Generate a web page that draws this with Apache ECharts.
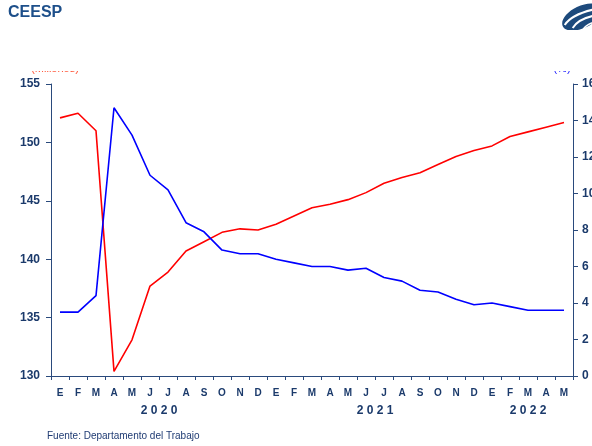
<!DOCTYPE html>
<html>
<head>
<meta charset="utf-8">
<script src="https://cdn.jsdelivr.net/npm/echarts@6/dist/echarts.min.js"></script>
<style>
  html, body { margin: 0; padding: 0; background: #ffffff; overflow: hidden; }
  #chart { width: 592px; height: 446px; }
</style>
</head>
<body>
<div id="chart"></div>
<script>
// Monthly categories, January 2020 to May 2022 (Spanish initials)
const months = ['E','F','M','A','M','J','J','A','S','O','N','D',
                'E','F','M','A','M','J','J','A','S','O','N','D',
                'E','F','M','A','M'];

// Nonfarm employment, millions (left axis)
const employment = [152.1, 152.5, 151.0, 130.4, 133.1, 137.7, 138.9, 140.7, 141.5, 142.3, 142.6, 142.5,
                    143.0, 143.7, 144.4, 144.7, 145.1, 145.7, 146.5, 147.0, 147.4, 148.1, 148.8, 149.3,
                    149.7, 150.5, 150.9, 151.3, 151.7];

// Unemployment rate, % (right axis)
const unemployment = [3.5, 3.5, 4.4, 14.7, 13.2, 11.0, 10.2, 8.4, 7.9, 6.9, 6.7, 6.7,
                      6.4, 6.2, 6.0, 6.0, 5.8, 5.9, 5.4, 5.2, 4.7, 4.6, 4.2, 3.9,
                      4.0, 3.8, 3.6, 3.6, 3.6];

// Year captions and where they sit on the month scale (in months from Jan 2020)
const years = ['2020', '2021', '2022'];
const yearAt = [6, 18, 26.5];

const navy = '#1b3a6b';
const axisColor = '#2a4a7c';
const font = 'Liberation Sans, Arial, sans-serif';

const chart = echarts.init(document.getElementById('chart'), null, { renderer: 'canvas' });

chart.setOption({
  animation: false,
  backgroundColor: '#ffffff',
  grid: { left: 51, right: 19, top: 84, bottom: 70, containLabel: false, outerBoundsMode: 'none' },
  xAxis: [
    {
      type: 'category',
      data: months,
      boundaryGap: true,
      axisLine: { show: true, lineStyle: { color: axisColor, width: 1 } },
      axisTick: { show: true, inside: false, length: 4, interval: 0, lineStyle: { color: axisColor } },
      axisLabel: { interval: 0, margin: 12, color: navy, fontFamily: font, fontWeight: 'bold', fontSize: 10 },
      splitLine: { show: false }
    },
    {
      type: 'value',
      min: 0,
      max: months.length,
      interval: 0.5,
      position: 'bottom',
      axisLine: { show: false },
      axisTick: { show: false },
      splitLine: { show: false },
      axisLabel: {
        margin: 29,
        color: navy,
        fontFamily: font,
        fontWeight: 'bold',
        fontSize: 12,
        showMinLabel: true,
        showMaxLabel: true,
        formatter: function (v) {
          for (let i = 0; i < yearAt.length; i++) {
            if (Math.abs(v - yearAt[i]) < 1e-6) return years[i].split('').join(' ');
          }
          return '';
        }
      }
    }
  ],
  yAxis: [
    {
      type: 'value',
      min: 130,
      max: 155,
      interval: 5,
      position: 'left',
      name: '(Millones)',
      nameLocation: 'end',
      nameGap: 10,
      nameTextStyle: { color: '#ff4d2e', fontFamily: font, fontSize: 11, padding: [0, 0, 0, 8] },
      axisLine: { show: true, lineStyle: { color: axisColor, width: 1 } },
      axisTick: { show: true, inside: false, length: 5, lineStyle: { color: axisColor } },
      axisLabel: { margin: 11, color: navy, fontFamily: font, fontWeight: 'bold', fontSize: 12 },
      splitLine: { show: false }
    },
    {
      type: 'value',
      min: 0,
      max: 16,
      interval: 2,
      position: 'right',
      name: '(%)',
      nameLocation: 'end',
      nameGap: 10,
      nameTextStyle: { color: '#1a1aff', fontFamily: font, fontSize: 11, padding: [0, 22, 0, 0] },
      axisLine: { show: true, lineStyle: { color: axisColor, width: 1 } },
      axisTick: { show: true, inside: false, length: 5, lineStyle: { color: axisColor } },
      axisLabel: { margin: 9, color: navy, fontFamily: font, fontWeight: 'bold', fontSize: 12 },
      splitLine: { show: false }
    }
  ],
  series: [
    {
      name: 'Empleo',
      type: 'line',
      xAxisIndex: 0,
      yAxisIndex: 0,
      data: employment,
      symbol: 'none',
      lineStyle: { color: '#ff0000', width: 1.6 },
      z: 3
    },
    {
      name: 'Desempleo',
      type: 'line',
      xAxisIndex: 0,
      yAxisIndex: 1,
      data: unemployment,
      symbol: 'none',
      lineStyle: { color: '#0000ff', width: 1.6 },
      z: 4
    }
  ],
  graphic: [
    // page band above the plot hides the upper part of the unit captions
    { type: 'rect', left: 0, top: 30, shape: { width: 592, height: 41 }, style: { fill: '#ffffff' }, z: 100 },
    {
      type: 'text', left: 8, top: 5, z: 101,
      style: { text: 'CEESP', fill: '#1d4f8a', font: 'bold 16px ' + font }
    },
    // logo mark, top right
    {
      type: 'group', left: 558, top: -2, z: 101,
      children: [
        {
          type: 'ellipse',
          shape: { cx: 22, cy: 14, rx: 21, ry: 11 },
          rotation: Math.PI / 7,
          originX: 22, originY: 14,
          style: { fill: '#1d4a7c' }
        },
        {
          type: 'bezierCurve',
          shape: { x1: 5, y1: 22, cpx1: 12, cpy1: 11, x2: 36, y2: 6 },
          style: { stroke: '#ffffff', lineWidth: 2, fill: 'none' }
        },
        {
          type: 'bezierCurve',
          shape: { x1: 13, y1: 25, cpx1: 19, cpy1: 15, x2: 38, y2: 12 },
          style: { stroke: '#ffffff', lineWidth: 2, fill: 'none' }
        },
        {
          type: 'bezierCurve',
          shape: { x1: 23, y1: 27, cpx1: 27, cpy1: 20, x2: 40, y2: 18 },
          style: { stroke: '#ffffff', lineWidth: 1.5, fill: 'none' }
        }
      ]
    },
    {
      type: 'text', left: 47, top: 431, z: 101,
      style: { text: 'Fuente: Departamento del Trabajo', fill: '#1f3b73', font: '10px ' + font }
    }
  ]
});
</script>
</body>
</html>
